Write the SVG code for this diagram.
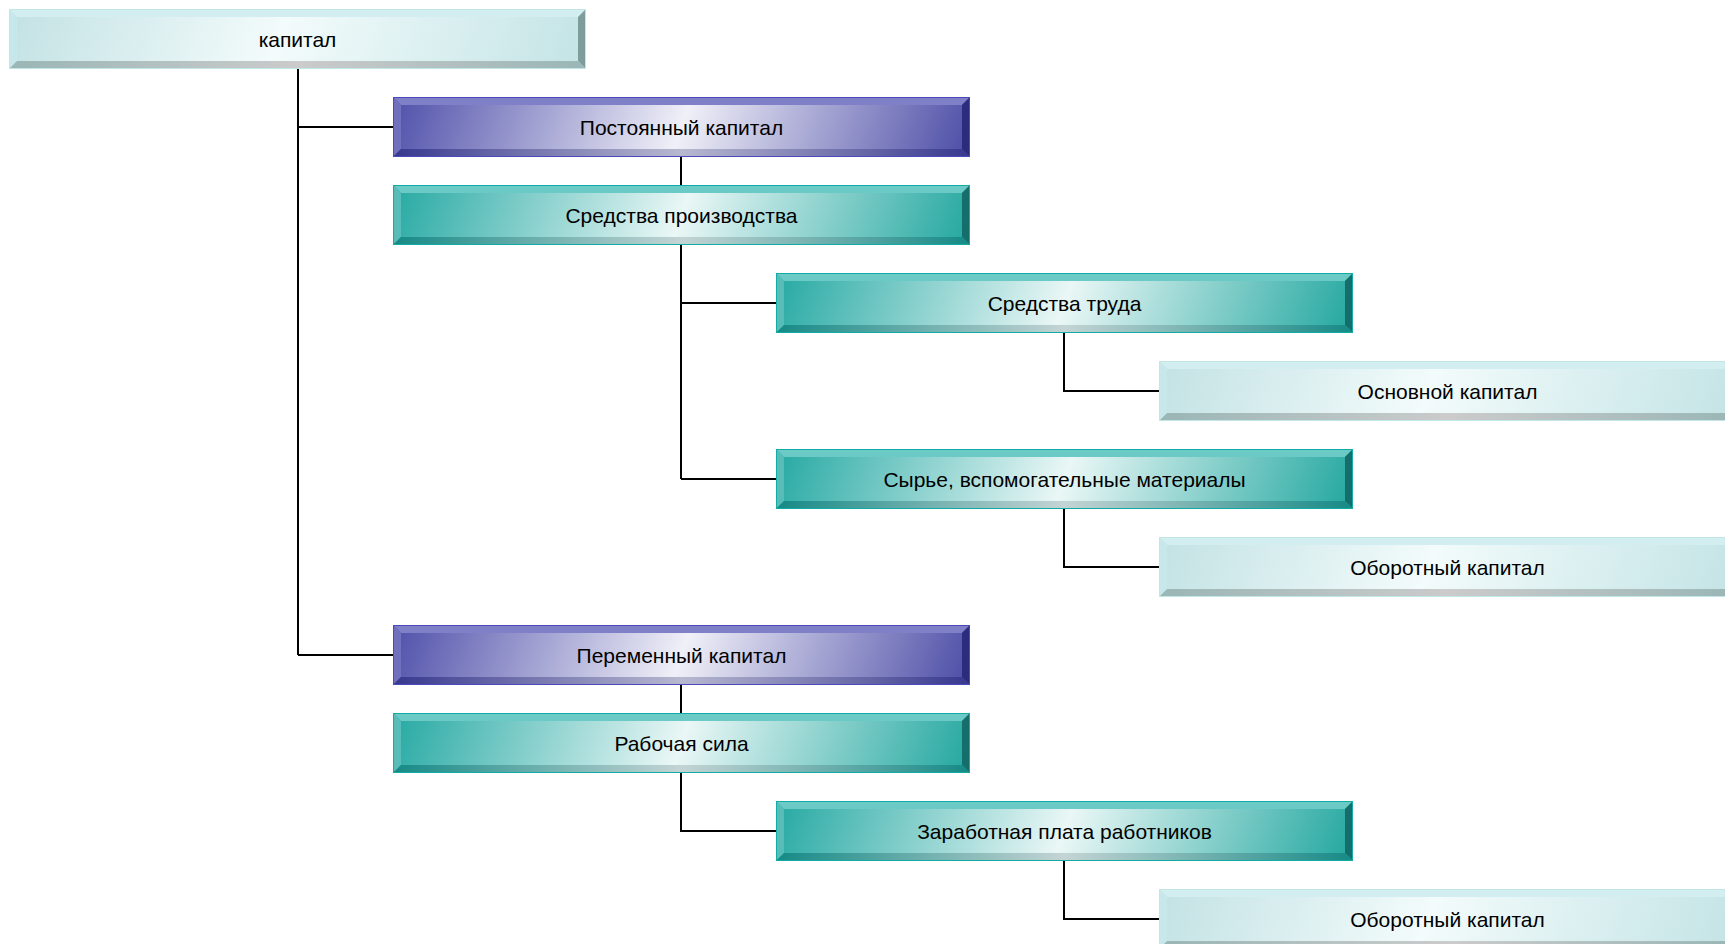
<svg xmlns="http://www.w3.org/2000/svg" xmlns:xlink="http://www.w3.org/1999/xlink" width="1725" height="944" viewBox="0 0 1725 944">
<style>
.lbl{font-family:"Liberation Sans",Arial,sans-serif;font-size:21px;fill:#000;text-anchor:middle}
.con{fill:none;stroke:#000;stroke-width:2}
</style>
<defs>
<linearGradient id="gC" gradientUnits="userSpaceOnUse" x1="8" y1="-70" x2="569" y2="130">
<stop offset="0" stop-color="#bfe0e2"/><stop offset="0.47" stop-color="#f3fbfb"/><stop offset="1" stop-color="#c0e2e4"/>
</linearGradient>
<linearGradient id="gP" gradientUnits="userSpaceOnUse" x1="8" y1="-70" x2="569" y2="130">
<stop offset="0" stop-color="#4646a6"/><stop offset="0.5" stop-color="#f0f0f8"/><stop offset="1" stop-color="#4242a2"/>
</linearGradient>
<linearGradient id="gT" gradientUnits="userSpaceOnUse" x1="8" y1="-70" x2="569" y2="130">
<stop offset="0" stop-color="#1aa49e"/><stop offset="0.5" stop-color="#eaf7f6"/><stop offset="1" stop-color="#16a29a"/>
</linearGradient>
<linearGradient id="bC" x1="0" y1="0" x2="1" y2="0">
<stop offset="0" stop-color="#9ab6b6"/><stop offset="0.5" stop-color="#cbcbcb"/><stop offset="1" stop-color="#9ab6b6"/>
</linearGradient>
<linearGradient id="bP" x1="0" y1="0" x2="1" y2="0">
<stop offset="0" stop-color="#383890"/><stop offset="0.5" stop-color="#b8b8d0"/><stop offset="1" stop-color="#383890"/>
</linearGradient>
<linearGradient id="bT" x1="0" y1="0" x2="1" y2="0">
<stop offset="0" stop-color="#168a86"/><stop offset="0.5" stop-color="#c4d4d4"/><stop offset="1" stop-color="#168a86"/>
</linearGradient>
<g id="boxC">
<rect x="0" y="0" width="577" height="60" fill="#c2e6e8"/>
<polygon points="1,1 576,1 569,8 8,8" fill="#d2eef0"/>
<polygon points="1,1 8,8 8,52 1,59" fill="#c6e8ea"/>
<polygon points="576,1 576,59 569,52 569,8" fill="#7e9c9c"/>
<polygon points="1,59 8,52 569,52 576,59" fill="url(#bC)"/>
<rect x="8" y="8" width="561" height="44" fill="url(#gC)"/>
</g>
<g id="boxP">
<rect x="0" y="0" width="577" height="60" fill="#4a4ab8"/>
<polygon points="1,1 576,1 569,8 8,8" fill="#8080c8"/>
<polygon points="1,1 8,8 8,52 1,59" fill="#7070bc"/>
<polygon points="576,1 576,59 569,52 569,8" fill="#2c2c7c"/>
<polygon points="1,59 8,52 569,52 576,59" fill="url(#bP)"/>
<rect x="8" y="8" width="561" height="44" fill="url(#gP)"/>
</g>
<g id="boxT">
<rect x="0" y="0" width="577" height="60" fill="#14aaa6"/>
<polygon points="1,1 576,1 569,8 8,8" fill="#6ccac6"/>
<polygon points="1,1 8,8 8,52 1,59" fill="#58bcb8"/>
<polygon points="576,1 576,59 569,52 569,8" fill="#166e6c"/>
<polygon points="1,59 8,52 569,52 576,59" fill="url(#bT)"/>
<rect x="8" y="8" width="561" height="44" fill="url(#gT)"/>
</g>
</defs>
<g id="connectors">
<path class="con" d="M298,69 V655 M298,127 H393 M298,655 H393"/>
<path class="con" d="M681,157 V185"/>
<path class="con" d="M681,245 V479 M681,303 H776 M681,479 H776"/>
<path class="con" d="M1064,333 V391 H1159"/>
<path class="con" d="M1064,509 V567 H1159"/>
<path class="con" d="M681,685 V713"/>
<path class="con" d="M681,773 V831 H776"/>
<path class="con" d="M1064,861 V919 H1159"/>
</g>
<g id="n0"><use xlink:href="#boxC" x="9" y="9"/><text class="lbl" x="297.5" y="47">капитал</text></g>
<g id="n1"><use xlink:href="#boxP" x="393" y="97"/><text class="lbl" x="681.5" y="135">Постоянный капитал</text></g>
<g id="n2"><use xlink:href="#boxT" x="393" y="185"/><text class="lbl" x="681.5" y="223">Средства производства</text></g>
<g id="n3"><use xlink:href="#boxT" x="776" y="273"/><text class="lbl" x="1064.5" y="311">Средства труда</text></g>
<g id="n4"><use xlink:href="#boxC" x="1159" y="361"/><text class="lbl" x="1447.5" y="399">Основной капитал</text></g>
<g id="n5"><use xlink:href="#boxT" x="776" y="449"/><text class="lbl" x="1064.5" y="487">Сырье, вспомогательные материалы</text></g>
<g id="n6"><use xlink:href="#boxC" x="1159" y="537"/><text class="lbl" x="1447.5" y="575">Оборотный капитал</text></g>
<g id="n7"><use xlink:href="#boxP" x="393" y="625"/><text class="lbl" x="681.5" y="663">Переменный капитал</text></g>
<g id="n8"><use xlink:href="#boxT" x="393" y="713"/><text class="lbl" x="681.5" y="751">Рабочая сила</text></g>
<g id="n9"><use xlink:href="#boxT" x="776" y="801"/><text class="lbl" x="1064.5" y="839">Заработная плата работников</text></g>
<g id="n10"><use xlink:href="#boxC" x="1159" y="889"/><text class="lbl" x="1447.5" y="927">Оборотный капитал</text></g>
</svg>
